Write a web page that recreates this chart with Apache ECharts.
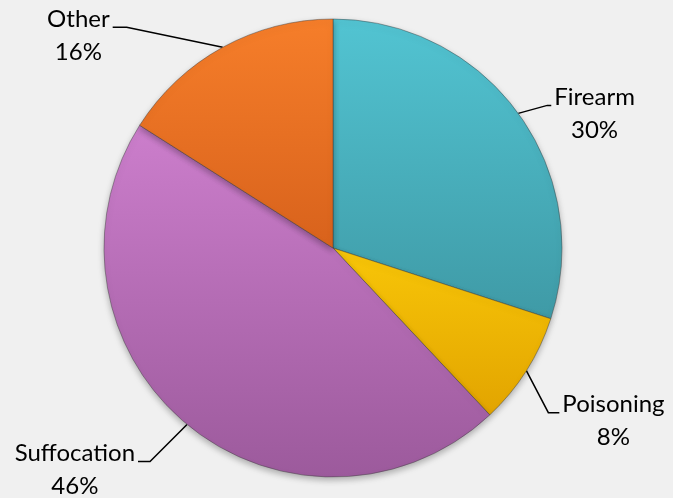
<!DOCTYPE html>
<html>
<head>
<meta charset="utf-8">
<script src="https://cdn.jsdelivr.net/npm/echarts@6/dist/echarts.min.js"></script>
<style>
  html, body { margin: 0; padding: 0; background: #f0f0f0; }
  #chart { width: 673px; height: 498px; }
</style>
</head>
<body>
<div id="chart"></div>
<script>
// ---- data ----
const categories = ['Firearm', 'Poisoning', 'Suffocation', 'Other'];
const shares = [30, 8, 46, 16];

// ---- styling / layout (not data) ----
const topColors = ['#52c4d2', '#f8c608', '#cc7ecc', '#f67e2a'];
const bottomColors = ['#3f9aa6', '#e2a400', '#9c5a9c', '#d8621c'];
// elbow offset from the arc anchor, and horizontal tail length
const elbowOffsets = [[29, -8], [22, 42], [-37, 37], [-96, -20]];
const tailLengths = [4, 11, -12, -14];
const FONT = 'Lato';
const FONT_SIZE = 24;
const LINE_H = 33;

const chart = echarts.init(document.getElementById('chart'), null, { renderer: 'canvas' });

const data = categories.map((name, i) => ({
  name: name,
  value: shares[i],
  itemStyle: {
    color: new echarts.graphic.LinearGradient(0, 0, 0, 1, [
      { offset: 0, color: topColors[i] },
      { offset: 1, color: bottomColors[i] }
    ])
  }
}));

chart.setOption({
  backgroundColor: '#f0f0f0',
  animation: false,
  series: [{
    type: 'pie',
    center: [333, 248],
    radius: 229,
    startAngle: 90,
    clockwise: true,
    avoidLabelOverlap: false,
    data: data,
    itemStyle: {
      borderColor: 'rgba(60,60,60,0.45)',
      borderWidth: 1,
      shadowBlur: 6,
      shadowOffsetY: 3,
      shadowColor: 'rgba(0,0,0,0.28)'
    },
    label: {
      show: true,
      position: 'outside',
      formatter: '{b}\n{d}%',
      fontFamily: FONT,
      fontSize: FONT_SIZE,
      lineHeight: LINE_H,
      color: '#000'
    },
    labelLine: {
      show: true,
      length: 20,
      length2: 10,
      lineStyle: { color: '#000', width: 1.5 }
    },
    labelLayout: function (params) {
      const i = params.dataIndex;
      const pts = params.labelLinePoints;
      const a = pts[0];
      const e = [a[0] + elbowOffsets[i][0], a[1] + elbowOffsets[i][1]];
      const t = [e[0] + tailLengths[i], e[1]];
      const w = params.labelRect.width;
      const right = tailLengths[i] > 0;
      const gap = 3;
      const cx = right ? t[0] + gap + w / 2 : t[0] - gap - w / 2;
      return {
        x: cx,
        y: t[1] - 25,
        align: 'center',
        verticalAlign: 'top',
        labelLinePoints: [a, e, t]
      };
    }
  }]
});
</script>
</body>
</html>
